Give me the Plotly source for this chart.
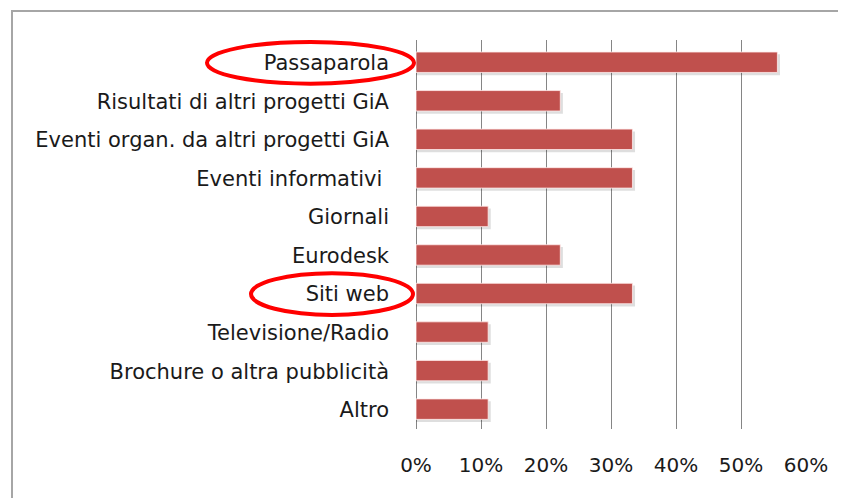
import plotly.graph_objects as go

categories = ["Passaparola", "Risultati di altri progetti GiA", "Eventi organ. da altri progetti GiA",
              "Eventi informativi ", "Giornali", "Eurodesk", "Siti web", "Televisione/Radio",
              "Brochure o altra pubblicità", "Altro"]
values = [0.556, 0.222, 0.333, 0.333, 0.111, 0.222, 0.333, 0.111, 0.111, 0.111]
tick_vals = [0, 0.1, 0.2, 0.3, 0.4, 0.5, 0.6]
tick_text = ["0%", "10%", "20%", "30%", "40%", "50%", "60%"]
highlighted = ["Passaparola", "Siti web"]

W, H = 846, 498
OFF = 8  # page body margin
L, T = 416 - OFF, 40 - OFF
pw, ph = 390, 389
R = W - L - pw
B = H - T - ph
font = "DejaVu Sans, sans-serif"
FS = 21

fig = go.Figure()
# soft shadow
fig.add_trace(go.Bar(y=categories, x=[v + 0.004 for v in values], orientation="h",
                     marker=dict(color="rgba(0,0,0,0.13)", line=dict(width=0)),
                     width=0.54, offset=-0.22, hoverinfo="skip", showlegend=False))
fig.add_trace(go.Bar(y=categories, x=values, orientation="h",
                     marker=dict(color="#C0504D", line=dict(color="rgba(255,235,235,0.8)", width=1)),
                     width=0.53, offset=-0.28, showlegend=False))


def px_x(X):
    return (X - OFF - L) / pw


def px_y(Y):
    return (T + ph - (Y - OFF)) / ph


shapes = []
shapes.append(dict(type="rect", xref="paper", yref="paper",
                   x0=px_x(12), x1=px_x(W + 20), y0=px_y(H + 20), y1=px_y(11),
                   line=dict(color="#A6A6A6", width=2), layer="below"))
ell_x = {"Passaparola": (207, 414), "Siti web": (251, 413)}
for name in highlighted:
    i = categories.index(name)
    x0, x1 = ell_x[name]
    shapes.append(dict(type="circle", xref="paper", yref="y",
                       x0=px_x(x0), x1=px_x(x1),
                       y0=i - 0.54, y1=i + 0.54,
                       line=dict(color="#FF0000", width=4)))

fig.update_layout(
    width=W, height=H, barmode="overlay",
    margin=dict(l=L, r=R, t=T, b=B, autoexpand=False),
    paper_bgcolor="white", plot_bgcolor="white",
    font=dict(family=font, size=FS, color="#1a1a1a"),
    shapes=shapes,
    xaxis=dict(range=[0, 0.6], tickvals=tick_vals, ticktext=tick_text,
               showgrid=True, gridcolor="#858585", gridwidth=1.3,
               zeroline=True, zerolinecolor="#858585", zerolinewidth=1.3,
               showline=False, ticks="", ticklabelstandoff=22,
               tickfont=dict(size=FS - 1, color="#1a1a1a"), fixedrange=True),
    yaxis=dict(autorange="reversed", showgrid=False, ticks="", ticklabelstandoff=26,
               tickfont=dict(size=FS, color="#1a1a1a"), showline=False),
)
fig.write_html("out.html")
